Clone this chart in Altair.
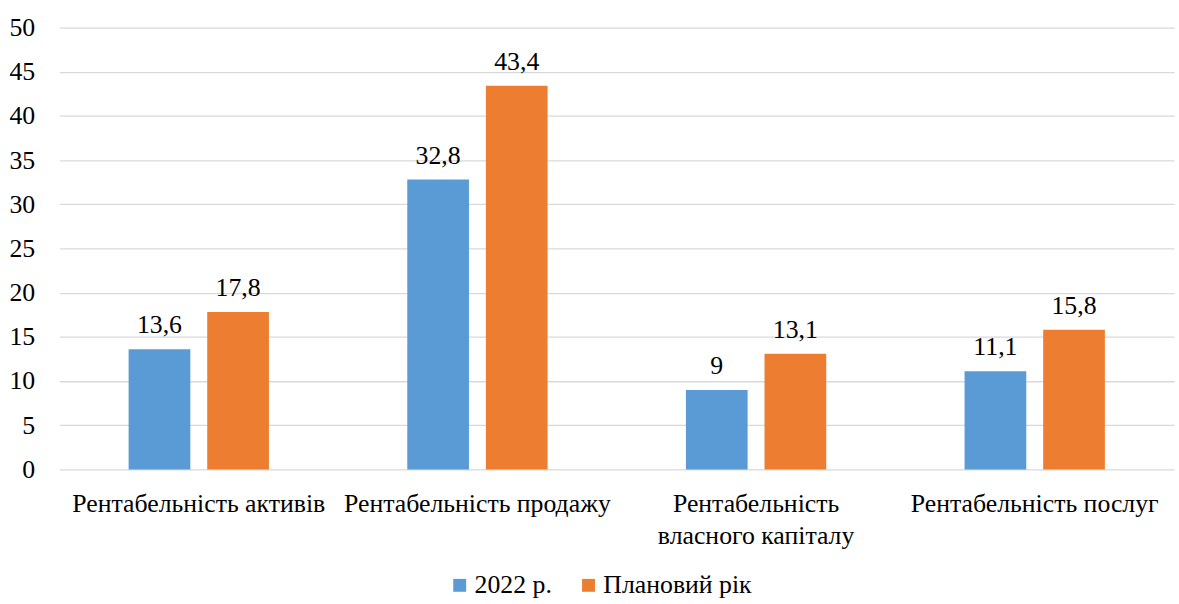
import altair as alt
import pandas as pd

categories = ["Рентабельність активів", "Рентабельність продажу",
              "Рентабельність власного капіталу", "Рентабельність послуг"]
series = ["2022 р.", "Плановий рік"]
values_2022 = [13.6, 32.8, 9, 11.1]
values_plan = [17.8, 43.4, 13.1, 15.8]
colors = ["#5B9BD5", "#ED7D31"]

rows = []
for c, a, b in zip(categories, values_2022, values_plan):
    rows.append({"cat": c, "series": series[0], "value": a})
    rows.append({"cat": c, "series": series[1], "value": b})
df = pd.DataFrame(rows)

FONT = "Liberation Serif"
FS = 26

x = alt.X("cat:N", sort=categories, title=None,
          scale=alt.Scale(paddingInner=0, paddingOuter=0, range=[0, 1125]),
          axis=alt.Axis(labelAngle=0, labelFont=FONT, labelFontSize=FS, labelColor="#000000",
                        domain=False, ticks=False, labelPadding=21, labelLimit=400,
                        labelLineHeight=33,
                        labelExpr="datum.value == 'Рентабельність власного капіталу' ? ['Рентабельність', 'власного капіталу'] : datum.value"))
xo = alt.XOffset("series:N", sort=series,
                 scale=alt.Scale(paddingInner=0.215, paddingOuter=0.88))
y = alt.Y("value:Q", title=None,
          scale=alt.Scale(domain=[0, 50], nice=False),
          axis=alt.Axis(values=list(range(0, 55, 5)), labelFont=FONT, labelFontSize=FS,
                        labelColor="#000000", domain=False, ticks=False, labelPadding=25,
                        gridColor="#D9D9D9", gridWidth=1.3))
color = alt.Color("series:N", sort=series, title=None,
                  scale=alt.Scale(domain=series, range=colors),
                  legend=alt.Legend(orient="none", legendX=391, legendY=550, direction="horizontal",
                                    symbolType="square", symbolSize=169, symbolStrokeWidth=0,
                                    labelFont=FONT, labelFontSize=FS, labelColor="#000000",
                                    columnPadding=24, symbolOffset=0, labelOffset=2))

bars = alt.Chart(df).mark_bar().encode(x=x, xOffset=xo, y=y, color=color)
labels = alt.Chart(df).mark_text(font=FONT, fontSize=FS, color="#000000", baseline="alphabetic",
                                 dy=-16).transform_calculate(
    lbl="replace(toString(datum.value), '.', ',')"
).encode(x=x, xOffset=xo, y=y, text="lbl:N")

chart = alt.layer(bars, labels).properties(
    width=1108, height=446,
    padding={"left": 9, "top": 12, "right": 5, "bottom": 0},
    view=alt.ViewBackground(stroke="transparent"),
)

chart.save("out.html", embed_options={"renderer": "svg", "actions": False})
